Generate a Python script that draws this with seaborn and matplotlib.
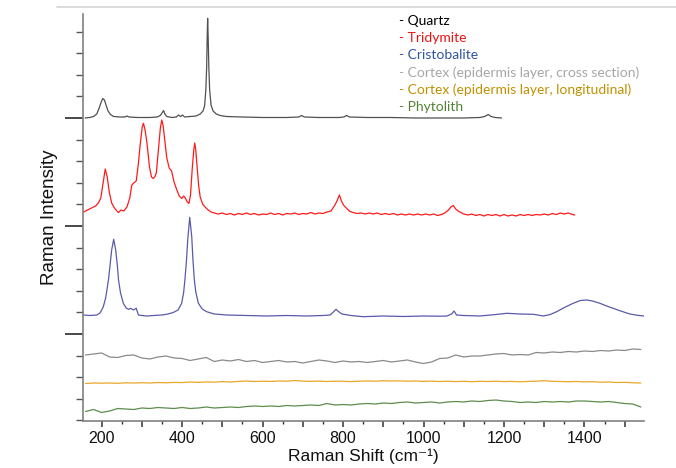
import numpy as np
import matplotlib
matplotlib.use("Agg")
import matplotlib.pyplot as plt
import seaborn as sns
from matplotlib.ticker import MultipleLocator, FuncFormatter, FixedLocator
from matplotlib.lines import Line2D

# Spectra (Raman shift in cm-1, intensity in arbitrary offset units)
quartz_x = [159, 170, 180, 188, 194, 199, 203, 207, 211, 216, 222, 230, 245, 258, 263, 268,
            290, 320, 338, 346, 350, 354, 357, 362, 375, 386, 391, 396, 401, 406, 420, 435,
            445, 452, 456, 459, 461, 462.5, 463.5, 465, 466.5, 468.5, 472, 477, 485, 495,
            510, 550, 600, 660, 690, 697, 704, 740, 790, 802, 809, 816, 860, 920, 980,
            1040, 1100, 1140, 1152, 1161, 1168, 1178, 1194]
quartz_y = [302, 302.5, 303.5, 306, 312, 318, 321.5, 320, 315, 309, 305.5, 303.5, 303, 303, 304, 303,
            302.5, 302.5, 303, 304.5, 307, 309.5, 306, 303.5, 302.5, 303, 305, 303.5, 305, 303, 303.5, 304,
            306, 309, 314, 330, 352, 385, 401.7, 380, 352, 330, 315, 309, 306, 304.5,
            303.5, 303, 302.5, 302.5, 303, 304.5, 303, 302.5, 302.5, 303, 304.5, 303, 302.5, 302.5, 302,
            302, 302, 302.5, 303.5, 305.5, 303.5, 302.5, 302]

tridymite_x = [155, 165, 175, 185, 192, 198, 203, 209, 214, 219, 225, 232, 238, 242, 248, 255,
               263, 270, 275, 280, 286, 291, 296, 301, 304, 308, 313, 319, 324, 328, 332, 336,
               341, 346, 349.5, 353, 357, 362, 368, 374, 380, 387, 393, 399, 404, 408, 413, 417,
               421, 425, 429, 431.5, 434, 437, 441, 445, 451, 457, 465, 472, 480, 490, 500, 510,
               520, 530, 540, 550, 560, 570, 580, 590, 600, 610, 620, 630, 640, 650, 660, 670,
               680, 690, 700, 710, 720, 730, 740, 750, 760, 770, 780, 786, 791, 796, 801, 808,
               817, 825, 835, 845, 855, 865, 875, 885, 895, 905, 915, 925, 935, 945, 955, 965,
               975, 985, 995, 1005, 1015, 1025, 1035, 1045, 1053, 1062, 1068, 1074, 1080, 1086,
               1093, 1100, 1110, 1120, 1130, 1140, 1150, 1160, 1170, 1180, 1190, 1200, 1210,
               1220, 1230, 1240, 1250, 1260, 1270, 1280, 1290, 1300, 1310, 1320, 1330, 1340,
               1350, 1360, 1370, 1376]
tridymite_y = [208, 210, 212, 214, 217, 222, 235, 251, 243, 228, 217, 212, 209, 207.5, 210, 209,
               213, 222, 235, 237, 239, 255, 276, 293, 296.7, 290, 276, 253, 243, 241.5, 243, 247,
               270, 292, 300, 294, 280, 262, 252, 249, 238, 230, 224, 221.5, 224, 222, 218, 216.5,
               225, 250, 270, 277, 270, 255, 235, 223, 216, 213, 210, 208, 207, 206, 207, 205.5,
               206.5, 205, 206.5, 205.5, 207, 205.5, 206.5, 205, 206, 205.5, 207, 205.5, 206.5, 205, 206.5, 206,
               207, 205.5, 206.5, 206, 207.5, 206, 207, 206.5, 208, 209, 215, 220, 225, 219, 215, 212,
               208.5, 207.5, 206.5, 207, 206, 207, 206, 207, 205.5, 206.5, 205.5, 206.5, 205, 206, 205, 206,
               205, 206, 205, 206, 205, 206, 204.5, 205.5, 207, 210, 213, 214.5, 211, 209,
               207.5, 206, 205, 206, 204.5, 205.5, 204, 205.5, 204.5, 205.5, 204, 205.5, 204,
               205, 204, 205.5, 204.5, 205.5, 204.5, 205.5, 205, 206, 205, 206.5, 205.5, 207,
               206, 207, 205.5, 205]

cristobalite_x = [155, 170, 188, 196, 204, 210, 217, 221, 225, 230, 235, 239, 242, 247, 254, 261,
                  267, 272.5, 279, 286, 291.5, 300, 312, 330, 350, 365, 378, 390, 399, 404, 407,
                  411, 414, 419, 424, 427, 430.5, 434, 440.5, 450, 461, 480, 511, 560, 610, 660,
                  710, 750, 768, 776, 782.6, 790, 797, 820, 850, 900, 950, 1000, 1040, 1058, 1070,
                  1076, 1082, 1100, 1140, 1180, 1207, 1240, 1273, 1298, 1315, 1331, 1350, 1372,
                  1390, 1405.5, 1420, 1438.5, 1455, 1471.5, 1490, 1513, 1530, 1548]
cristobalite_y = [105, 104.5, 105, 107, 113, 122, 140, 155, 170, 180.7, 170, 155, 140, 127, 116.7, 112,
                  110.7, 111.7, 110, 111.7, 105, 104.5, 104, 104.5, 105, 106, 107.5, 110, 116.7, 128, 140,
                  160, 180, 202.7, 183.3, 160, 140, 128, 116.7, 111, 108.3, 106, 105, 104.5, 104, 104.5,
                  104, 104.5, 105, 108, 110.7, 108, 106, 104.5, 103.3, 104, 103.5, 104, 103.8, 104, 106,
                  109, 105, 104.5, 104, 105.5, 106.7, 106, 105.7, 104, 105.5, 108.3, 112.5, 116.7,
                  119.5, 120, 119, 116.7, 114, 111.7, 109, 106, 104.8, 104]

# shared sampling for the three weak spectra
weak_x = [160, 180, 200, 220, 240, 260, 280, 300, 320, 340, 360, 380, 400, 420, 440, 460, 480, 500,
          520, 540, 560, 580, 600, 620, 640, 660, 680, 700, 720, 740, 760, 780, 800, 820, 840, 860,
          880, 900, 920, 940, 960, 980, 1000, 1020, 1040, 1060, 1080, 1100, 1120, 1140, 1160, 1180,
          1200, 1220, 1240, 1260, 1280, 1300, 1320, 1340, 1360, 1380, 1400, 1420, 1440, 1460, 1480,
          1500, 1520, 1540]
cortex_cross_y = [65, 66, 67, 63, 62.5, 64.5, 65, 62, 61, 63, 64, 62, 61.5, 59.5, 61, 62.5, 58.5, 60,
                  59, 60.5, 58.5, 59.5, 57.5, 58.5, 59.5, 58, 58.5, 57, 58.5, 60, 59, 57.5, 59, 58, 58.5, 57.5,
                  58.5, 59.5, 58, 59, 60, 58, 56.5, 58, 61.5, 62, 65, 63, 64, 64, 65, 66,
                  66.5, 65, 65.5, 65, 67.5, 67, 68, 67.5, 68.5, 68, 69, 68.5, 69.5, 69, 70,
                  69.5, 71, 70.5]
cortex_long_y = [36.5, 37, 36.8, 37, 36.7, 37.2, 37, 37.3, 37, 37.5, 37.2, 37.6, 37.4, 38, 37.6, 38.1, 37.8, 38.4,
                 38, 38.6, 39, 38.5, 38.8, 38.6, 39, 38.8, 39.5, 38.9, 38.6, 38.9, 38.5, 38.8, 38.7, 38.4, 38.8, 39,
                 38.8, 39.2, 39, 39.1, 38.8, 39, 38.6, 38.9, 38.5, 38.8, 38.4, 38.7, 38.3, 38.7, 38.5, 38.8,
                 38.4, 38.6, 38.2, 38.6, 38.8, 39.3, 38.7, 38.5, 38.3, 38.5, 38.1, 38.3, 37.8, 38, 37.5,
                 37.7, 37.2, 37]
phytolith_y = [8.5, 10.5, 7.5, 9, 11.5, 11, 10.5, 12, 11.5, 12.5, 12, 11.5, 12.5, 11.5, 12, 13, 12, 12.5,
               13, 12.5, 13.5, 14, 13.5, 14, 13.5, 14.5, 14, 14.5, 15, 14.5, 16.5, 15, 15.5, 15, 16, 16.5,
               16, 17, 16.5, 17.5, 18, 17, 17.5, 18, 17, 18, 18.5, 18, 19, 18.5, 19.5, 20,
               19, 18.5, 17.5, 18, 17.5, 18.5, 18, 18.5, 18, 19, 19, 18.5, 18, 18.5, 17.5,
               16.5, 16, 13]

labels = ["- Quartz", "- Tridymite", "- Cristobalite",
          "- Cortex (epidermis layer, cross section)",
          "- Cortex (epidermis layer, longitudinal)", "- Phytolith"]
line_colors = ["#505050", "#ff1a1a", "#5a5aaa", "#8a8a8a", "#e8a82a", "#5e8c4e"]
text_colors = ["#000000", "#ee1111", "#2f55a0", "#a6a6a6", "#c09000", "#548235"]

sns.set_theme(style="white")
plt.rcParams['font.family'] = ['Liberation Sans', 'DejaVu Sans']

fig = plt.figure(figsize=(6.76, 4.68), dpi=100)
ax = fig.add_axes([82.7 / 676, 1 - 421 / 468, (644 - 82.7) / 676, (421 - 14) / 468])

series = [(quartz_x, quartz_y), (tridymite_x, tridymite_y), (cristobalite_x, cristobalite_y),
          (weak_x, cortex_cross_y), (weak_x, cortex_long_y), (weak_x, phytolith_y)]
for (xs, ys), c in zip(series, line_colors):
    sns.lineplot(x=xs, y=ys, ax=ax, color=c, lw=0.9, estimator=None, sort=False)

ax.set_xlim(153, 1548)
ax.set_ylim(-1, 406)

# x ticks
ax.xaxis.set_major_locator(MultipleLocator(100))
ax.xaxis.set_minor_locator(MultipleLocator(50))
ax.xaxis.set_major_formatter(FuncFormatter(lambda v, p: f"{int(v)}" if v % 200 == 0 else ""))
ax.tick_params(axis='x', which='major', bottom=True, length=4, width=1.1, color='#333333',
               labelsize=11.5, pad=3, labelcolor='#111111')
ax.tick_params(axis='x', which='minor', bottom=True, length=2, width=1.0, color='#333333')

# y ticks (no labels)
ax.yaxis.set_major_locator(FixedLocator([86, 194, 302]))
ax.yaxis.set_minor_locator(FixedLocator(np.arange(302 + 21.6 * 5, -1, -21.6)))
ax.set_yticklabels([])
ax.tick_params(axis='y', which='major', left=True, length=13, width=1.3, color='#3a3a3a')
ax.tick_params(axis='y', which='minor', left=True, length=5, width=1.0, color='#555555')

for s in ['top', 'right']:
    ax.spines[s].set_visible(False)
for s in ['left', 'bottom']:
    ax.spines[s].set_color('#808080')
    ax.spines[s].set_linewidth(1.2)

ax.set_xlabel("Raman Shift (cm\u207b\u00b9)", fontsize=12.5, labelpad=2, color='#111111')
ax.set_ylabel("Raman Intensity", fontsize=13.5, labelpad=1.5, color='#111111')

# legend as coloured text
y_rows = [20.7, 37.7, 55, 72.3, 90, 107.3]
for lab, c, yr in zip(labels, text_colors, y_rows):
    fig.text(399.3 / 676, 1 - yr / 468, lab, color=c, fontsize=10, va='center', ha='left',
             family=['Lato', 'DejaVu Sans'])

# thin frame line at the top
fig.add_artist(Line2D([0.085, 1.0], [1 - 7 / 468, 1 - 7 / 468], color='#d4d4d4', lw=1.2))

fig.savefig("out.png", dpi=100)
